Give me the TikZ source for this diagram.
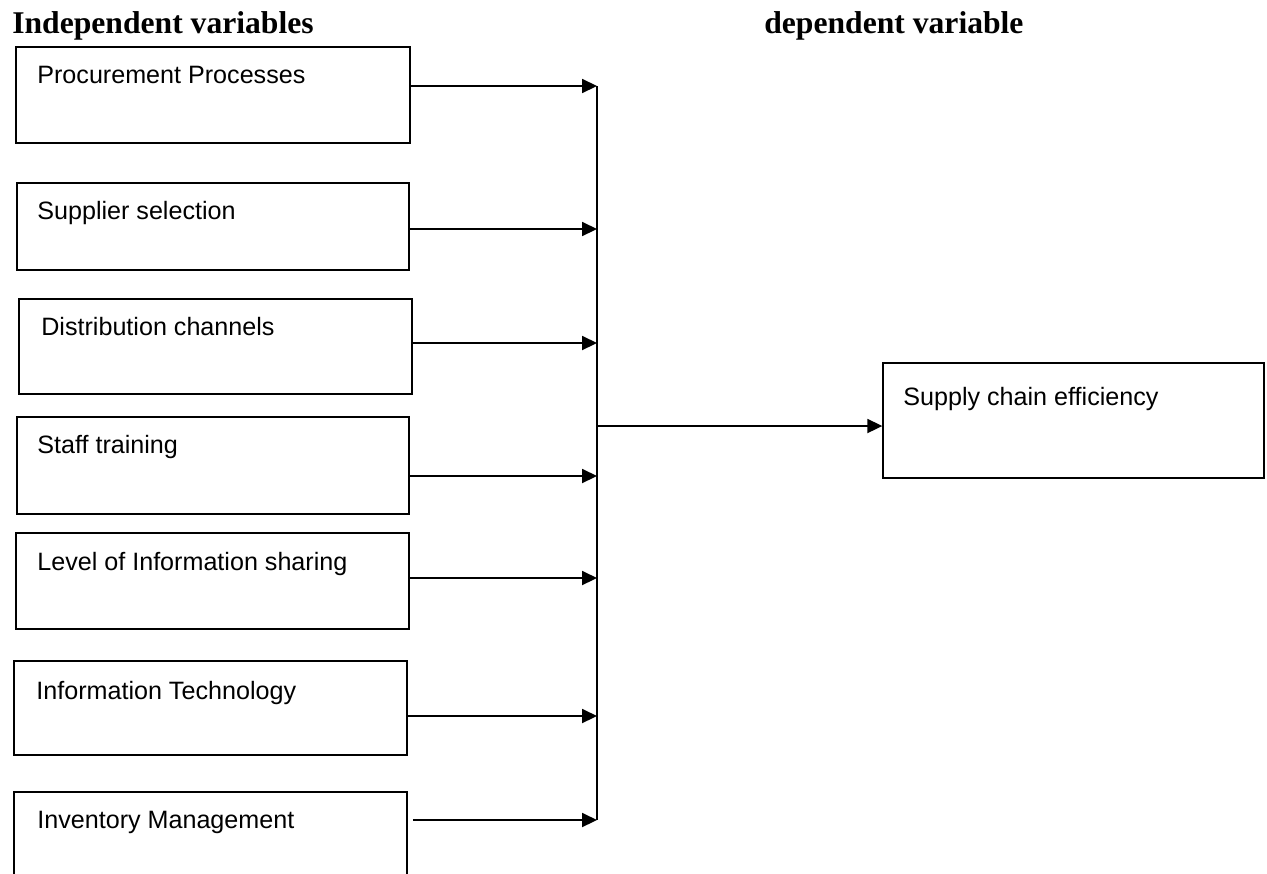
\documentclass[tikz,border=0pt]{standalone}
\usepackage{fontspec}
\setmainfont{Liberation Serif}
\newfontfamily\boxfont{Liberation Sans}
\usetikzlibrary{arrows.meta, fit}

\begin{document}
\begin{tikzpicture}[
    x=0.02cm, y=-0.02cm,
    >={Triangle[length=8.5pt, width=8pt]},
    varbox/.style={draw, line width=0.8pt, inner sep=0pt, fit={#1}},
    vartext/.style={anchor=base west, inner sep=0pt, font=\boxfont\fontsize{14.3}{17}\selectfont},
    heading/.style={anchor=base west, inner sep=0pt, font=\bfseries\fontsize{18}{21}\selectfont},
    link/.style={->, line width=0.9pt}
]
\useasboundingbox (0,0) rectangle (1267,873);

% --- Headings ---
\node[heading] (indep) at (12,33) {Independent variables};
\node[heading] (dep) at (764,33) {dependent variable};

% --- Boxes of the independent variables ---
\node[varbox={(16,47) (410,143)}] (procure) {};
\node[varbox={(17,183) (409,270)}] (supplier) {};
\node[varbox={(19,299) (412,394)}] (distrib) {};
\node[varbox={(17,417) (409,514)}] (staff) {};
\node[varbox={(16,533) (409,629)}] (infoshare) {};
\node[varbox={(14,661) (407,755)}] (infotech) {};
\node[varbox={(14,792) (407,900)}] (inventory) {};

% --- Box of the dependent variable ---
\node[varbox={(883,363) (1264,478)}] (supply) {};

% --- Box texts ---
\node[vartext] (procureT) at (37,83) {Procurement Processes};
\node[vartext] (supplierT) at (37,219) {Supplier selection};
\node[vartext] (distribT) at (41,335) {Distribution channels};
\node[vartext] (staffT) at (37,453) {Staff training};
\node[vartext] (infoshareT) at (37,570) {Level of Information sharing};
\node[vartext] (infotechT) at (36,699) {Information Technology};
\node[vartext] (inventoryT) at (37,828) {Inventory Management};
\node[vartext] (supplyT) at (903,405) {Supply chain efficiency};

% --- Points on the collecting line ---
\coordinate (j1) at (597,86);
\coordinate (j2) at (597,229);
\coordinate (j3) at (597,343);
\coordinate (j4) at (597,476);
\coordinate (j5) at (597,578);
\coordinate (j6) at (597,716);
\coordinate (j7) at (597,820);
\coordinate (jout) at (597,426);

% --- Connectors ---
\draw[line width=0.9pt] (j1) -- (j7);
\draw[link] (procure.east |- j1) -- (j1);
\draw[link] (supplier.east |- j2) -- (j2);
\draw[link] (distrib.east |- j3) -- (j3);
\draw[link] (staff.east |- j4) -- (j4);
\draw[link] (infoshare.east |- j5) -- (j5);
\draw[link] (infotech.east |- j6) -- (j6);
\draw[link] ([xshift=3pt]inventory.east |- j7) -- (j7);
\draw[link] (jout) -- (supply.west |- jout);

\end{tikzpicture}
\end{document}
